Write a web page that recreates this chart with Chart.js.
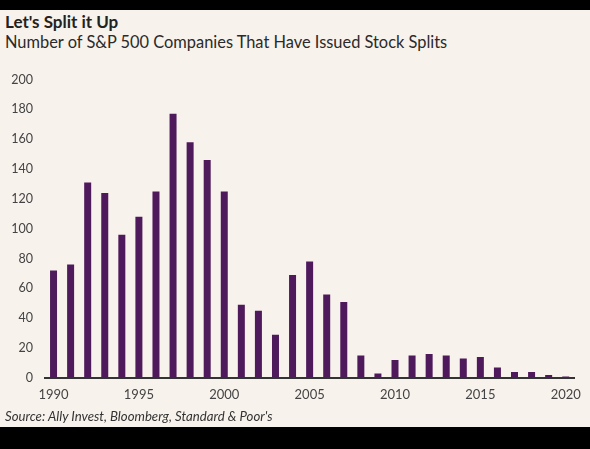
<!DOCTYPE html>
<html>
<head>
<meta charset="utf-8">
<script src="https://cdn.jsdelivr.net/npm/chart.js@4"></script>
<style>
    body { margin: 0; background: #000; width: 590px; height: 449px; overflow: hidden; }
    #panel { position: absolute; left: 0; top: 10px; width: 590px; height: 417px; background: #f8f2ec; }
    .txt { position: absolute; left: 5px; font-family: Lato, sans-serif; color: #222; white-space: nowrap; }
    #title { top: 1px; font-size: 17px; font-weight: bold; }
    #subtitle { top: 22px; font-size: 16.4px; color: #2a2a2a; }
    #source { top: 398px; font-size: 13.2px; font-style: italic; color: #333; }
    #wrap { position: absolute; left: 0; top: 50px; width: 590px; height: 360px; }
</style>
</head>
<body>
<div id="panel">
    <div class="txt" id="title">Let's Split it Up</div>
    <div class="txt" id="subtitle">Number of S&amp;P 500 Companies That Have Issued Stock Splits</div>
    <div id="wrap"><canvas id="chart"></canvas></div>
    <div class="txt" id="source">Source: Ally Invest, Bloomberg, Standard &amp; Poor's</div>
</div>
<script>
// Data
const years = [];
for (let y = 1990; y <= 2020; y++) years.push(String(y));

const splits = [
    72, 76, 131, 124, 96, 108, 125, 177, 158, 146,
    125, 49, 45, 29, 69, 78, 56, 51, 15, 3,
    12, 15, 16, 15, 13, 14, 7, 4, 4, 2, 1
];

const yTicks = [0, 20, 40, 60, 80, 100, 120, 140, 160, 180, 200];

const ctx = document.getElementById('chart');

new Chart(ctx, {
    type: 'bar',
    data: {
        labels: years,
        datasets: [{
            data: splits,
            backgroundColor: '#4f1a5c',
            categoryPercentage: 1,
            barPercentage: 0.41
        }]
    },
    options: {
        responsive: true,
        maintainAspectRatio: false,
        animation: false,
        layout: { padding: { top: 15, right: 12, left: 0, bottom: 0 } },
        plugins: {
            legend: { display: false },
            tooltip: { enabled: false }
        },
        scales: {
            x: {
                grid: { display: false, drawTicks: false },
                border: { color: '#333', width: 2 },
                afterFit: s => { s.height = 42; },
                ticks: {
                    autoSkip: false,
                    maxRotation: 0,
                    padding: 9,
                    color: '#444',
                    font: { family: 'Lato', size: 13 },
                    callback: function (v, i) {
                        const lab = years[i];
                        return Number(lab) % 5 === 0 ? lab : '';
                    }
                }
            },
            y: {
                min: 0,
                max: 200,
                grid: { display: false, drawTicks: false },
                border: { display: false },
                afterFit: s => { s.width = 45; },
                afterBuildTicks: s => { s.ticks = yTicks.map(v => ({ value: v })); },
                ticks: {
                    padding: 12,
                    color: '#444',
                    font: { family: 'Lato', size: 12.5 }
                }
            }
        }
    }
});
</script>
</body>
</html>
